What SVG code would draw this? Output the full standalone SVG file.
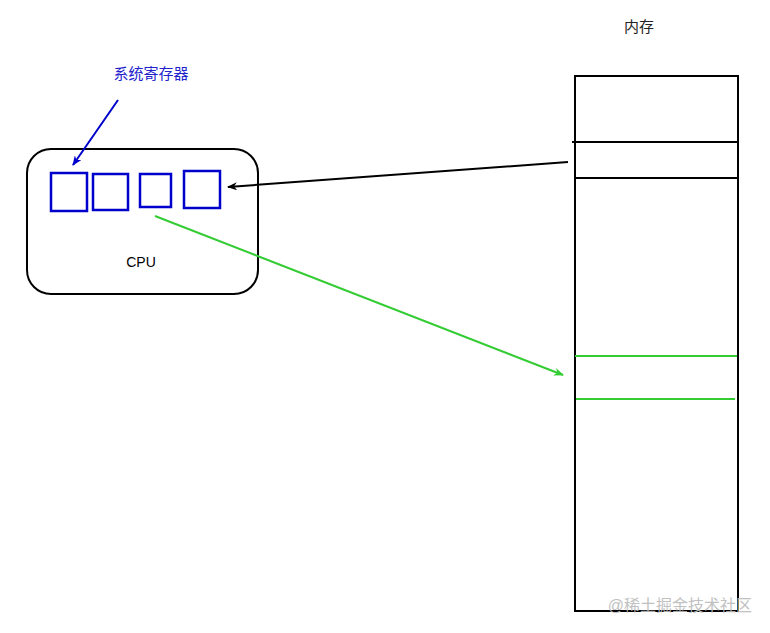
<svg xmlns="http://www.w3.org/2000/svg" width="770" height="633" viewBox="0 0 770 633">
<style>
.lbl{font-family:"Liberation Sans","Noto Sans CJK SC",sans-serif;font-size:14px;text-anchor:middle}
.cjk{font-size:15px}
.reg{fill:none;stroke:#0000cc;stroke-width:2.5}
.blk{fill:none;stroke:#000;stroke-width:2}
.grn{fill:none;stroke:#33cc33;stroke-width:2}
</style>
<defs>
<marker id="ab" markerWidth="10" markerHeight="8" refX="9" refY="4" orient="auto" markerUnits="userSpaceOnUse"><path d="M0,0 L10,4 L0,8 L3,4 Z" fill="#0000cc"/></marker>
<marker id="ak" markerWidth="10" markerHeight="8" refX="9" refY="4" orient="auto" markerUnits="userSpaceOnUse"><path d="M0,0 L10,4 L0,8 L3,4 Z" fill="#000"/></marker>
<marker id="ag" markerWidth="10" markerHeight="8" refX="9" refY="4" orient="auto" markerUnits="userSpaceOnUse"><path d="M0,0 L10,4 L0,8 L3,4 Z" fill="#33cc33"/></marker>
</defs>
<rect width="770" height="633" fill="#fff"/>
<g id="cpu">
<rect x="27" y="149" width="231" height="145" rx="24" class="blk"/>
<text x="141" y="267" class="lbl">CPU</text>
</g>
<g id="registers">
<rect x="51" y="173" width="36" height="38" class="reg"/>
<rect x="93" y="174" width="35" height="36" class="reg"/>
<rect x="140" y="174" width="31" height="33" class="reg"/>
<rect x="184" y="171" width="36" height="37" class="reg"/>
</g>
<g id="reg-label">
<text x="151" y="79" class="lbl cjk" fill="#2222cc">系统寄存器</text>
</g>
<g id="memory">
<text x="639" y="32" class="lbl cjk" fill="#222">内存</text>
<rect x="575" y="76" width="163" height="535" class="blk"/>
<line x1="572" y1="142" x2="738" y2="142" class="blk"/>
<line x1="575" y1="178" x2="738" y2="178" class="blk"/>
<line x1="575" y1="356" x2="737" y2="356" class="grn"/>
<line x1="576" y1="399" x2="735" y2="399" class="grn"/>
</g>
<g id="connectors">
<line x1="118" y1="100" x2="73" y2="165" stroke="#0000cc" stroke-width="2" marker-end="url(#ab)"/>
<line x1="568" y1="162" x2="228" y2="187" stroke="#000" stroke-width="2" marker-end="url(#ak)"/>
<line x1="155" y1="216" x2="563" y2="375" stroke="#33cc33" stroke-width="2" marker-end="url(#ag)"/>
</g>
<text x="752" y="611" font-family="'Liberation Sans','Noto Sans CJK SC',sans-serif" font-size="16" text-anchor="end" fill="#bbb" opacity="0.9">@稀土掘金技术社区</text>
</svg>
